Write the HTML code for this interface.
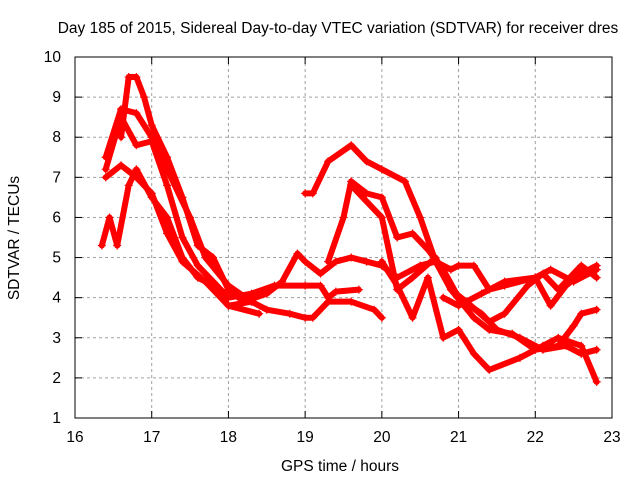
<!DOCTYPE html>
<html><head><meta charset="utf-8"><style>
body{margin:0;background:#fff}
svg text{font-family:"Liberation Sans",sans-serif;font-size:15.5px;fill:#000}
</style></head><body>
<svg id="c" width="640" height="480">
<text x="338" y="33" text-anchor="middle">Day 185 of 2015, Sidereal Day-to-day VTEC variation (SDTVAR) for receiver dres</text>
<text x="340" y="471" text-anchor="middle">GPS time / hours</text>
<text transform="translate(19,238) rotate(-90)" text-anchor="middle">SDTVAR / TECUs</text>
<g id="grid"></g><g id="series"></g>
<rect x="75" y="57" width="537" height="361" fill="none" stroke="#000"/>
<g id="ticks"></g>
</svg>
<script>
const xTicks=[16,17,18,19,20,21,22,23];
const yTicks=[1,2,3,4,5,6,7,8,9,10];
const s1=[[16.6,8.0],[16.7,9.5],[16.8,9.5],[16.9,9.0],[17.0,8.3],[17.2,7.5],[17.4,6.5],[17.6,5.3],[17.8,5.0],[18.0,4.2],[18.2,3.9],[18.5,4.1],[18.7,4.4],[18.9,5.1],[19.0,4.9],[19.2,4.6],[19.4,4.9],[19.6,5.0],[19.8,4.9],[20.0,4.8],[20.2,4.5],[20.5,4.8],[20.7,4.9],[20.9,4.7],[21.0,4.8],[21.2,4.8],[21.4,4.2],[21.6,4.3],[22.0,4.5],[22.2,4.7],[22.5,4.4],[22.8,4.7]];
const s2=[[16.4,7.5],[16.6,8.7],[16.8,8.6],[17.0,8.0],[17.2,7.2],[17.5,6.0],[17.7,5.0],[18.0,4.3],[18.3,3.9]];
const s2b=[[19.0,6.6],[19.1,6.6],[19.3,7.4],[19.6,7.8],[19.8,7.4],[20.0,7.2],[20.3,6.9],[20.5,6.0],[20.7,4.9],[20.9,4.2],[21.1,3.9],[21.4,3.4],[21.6,3.6],[21.9,4.3],[22.1,4.6],[22.3,4.2],[22.6,4.8],[22.8,4.5]];
const s3=[[16.4,7.2],[16.6,8.5],[16.8,7.8],[17.0,7.9],[17.2,6.8],[17.4,5.5],[17.6,4.8],[17.8,4.4],[18.0,4.0],[18.3,4.1],[18.6,4.3],[19.0,4.3],[19.2,4.3],[19.3,4.0],[19.4,4.15],[19.7,4.2]];
const s4=[[16.35,5.3],[16.45,6.0],[16.55,5.3],[16.7,6.8],[16.8,7.2],[17.0,6.5],[17.2,6.0],[17.4,5.0],[17.6,4.5],[17.8,4.3],[18.0,3.8],[18.3,3.9],[18.5,3.7],[18.8,3.6],[19.0,3.5],[19.1,3.5],[19.3,3.9],[19.6,3.9],[19.9,3.7],[20.0,3.5]];
const s5=[[16.4,7.0],[16.6,7.3],[16.8,7.0],[17.0,6.6],[17.2,5.6],[17.4,4.9],[17.7,4.4],[18.0,3.8],[18.4,3.6]];
const s6=[[19.3,4.9],[19.5,6.0],[19.6,6.9],[19.8,6.6],[20.0,6.5],[20.2,5.5],[20.4,5.6],[20.6,5.2],[20.8,4.7],[21.0,4.0],[21.3,3.6],[21.5,3.2],[21.8,3.0],[22.1,2.7],[22.4,2.8],[22.6,2.6],[22.8,2.7]];
const s7=[[19.6,6.8],[19.8,6.4],[20.0,6.0],[20.2,4.2],[20.4,4.5],[20.7,5.0],[20.9,4.2],[21.2,3.5],[21.4,3.2],[21.7,3.1],[22.0,2.7],[22.3,2.8],[22.5,3.3],[22.6,3.6],[22.8,3.7]];
const s8=[[20.0,4.9],[20.2,4.3],[20.4,3.5],[20.6,4.5],[20.8,3.0],[21.0,3.2],[21.2,2.6],[21.4,2.2],[21.8,2.5],[22.1,2.8],[22.3,3.0],[22.6,2.8],[22.8,1.9]];
const s9=[[20.8,4.0],[21.0,3.8],[21.3,4.1],[21.6,4.4],[22.0,4.5],[22.2,3.8],[22.4,4.3],[22.6,4.6],[22.8,4.8]];
const allSeries=[s1,s2,s2b,s3,s4,s5,s6,s7,s8,s9];
const X=t=>75+(t-16)*537/7, Y=v=>418-(v-1)*361/9;
const NS='http://www.w3.org/2000/svg';
function mk(tag,at,p){const e=document.createElementNS(NS,tag);for(const k in at)e.setAttribute(k,at[k]);p.appendChild(e);return e;}
const g=document.getElementById('grid'),tk=document.getElementById('ticks'),sg=document.getElementById('series');
xTicks.forEach(t=>{const x=X(t);
 if(t>16&&t<23){const l=mk('line',{x1:x,x2:x,y1:57,y2:418,stroke:'#a0a0a0','stroke-dasharray':'3,3'},g);
 
 }
 mk('line',{x1:x,x2:x,y1:418,y2:411,stroke:'#000'},tk);mk('line',{x1:x,x2:x,y1:57,y2:64,stroke:'#000'},tk);
 const tx=mk('text',{x:x,y:442,'text-anchor':'middle'},tk);tx.textContent=t;
 
 });
yTicks.forEach(v=>{const y=Y(v);
 if(v>1&&v<10){const l=mk('line',{x1:75,x2:612,y1:y,y2:y,stroke:'#a0a0a0','stroke-dasharray':'3,3'},g);
 
 }
 mk('line',{x1:75,x2:82,y1:y,y2:y,stroke:'#000'},tk);mk('line',{x1:612,x2:605,y1:y,y2:y,stroke:'#000'},tk);
 const tx=mk('text',{x:61,y:y+5,'text-anchor':'end'},tk);tx.textContent=v;
 
 });
allSeries.forEach((s,i)=>{
 const pts=s.map(p=>X(p[0])+','+Y(p[1])).join(' ');
 const pl=mk('polyline',{points:pts,fill:'none',stroke:'#ff0000','stroke-width':6,'stroke-linejoin':'round','stroke-linecap':'round'},sg);
 
 
 let d='';s.forEach(p=>{const x=X(p[0]),y=Y(p[1]);d+=`M${x-4},${y}h8M${x},${y-4}v8`;});
 const m=mk('path',{d:d,stroke:'#ff0000','stroke-width':1.2,fill:'none'},sg);
 
 
});
</script>
</body></html>
